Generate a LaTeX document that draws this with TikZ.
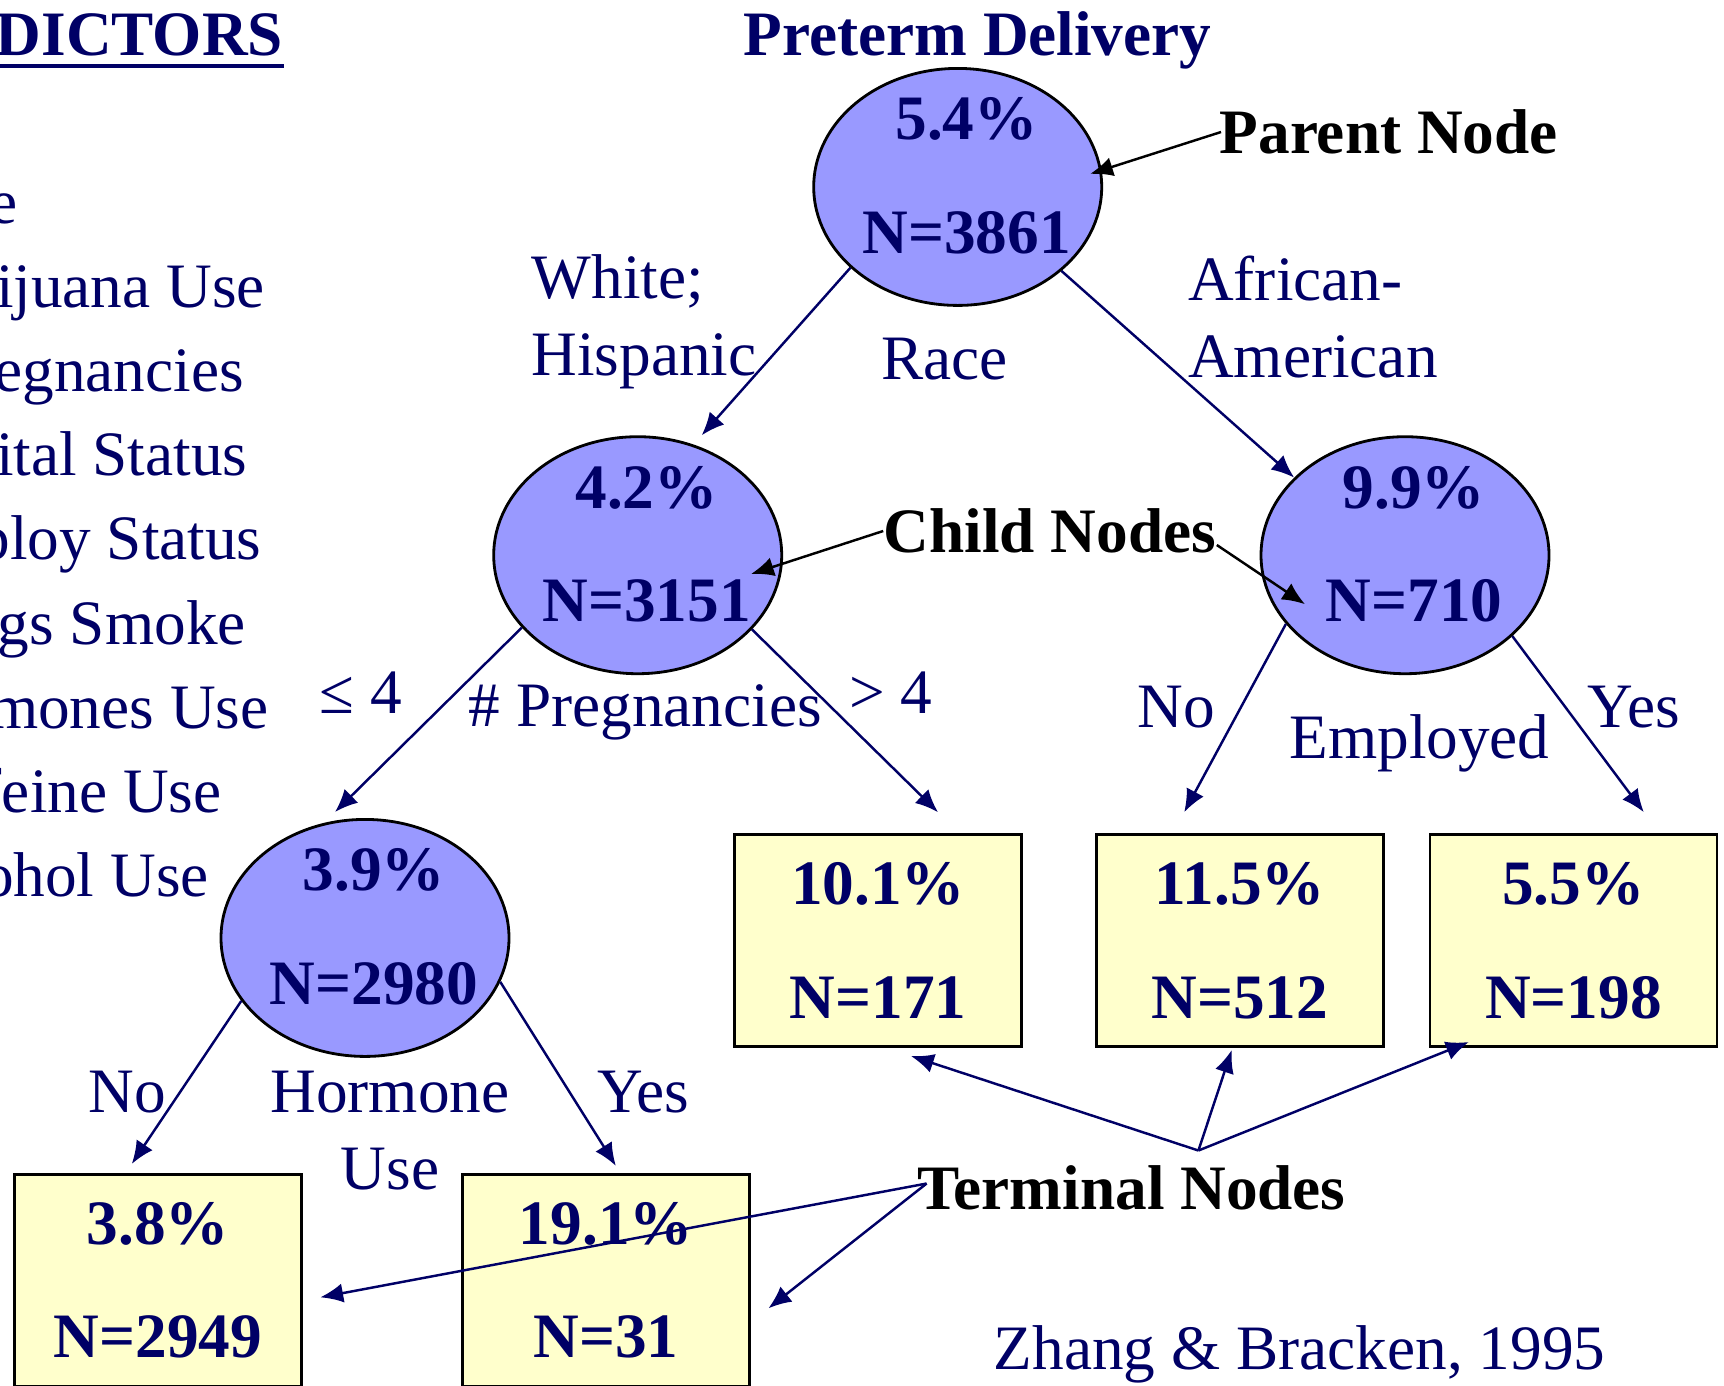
\documentclass[tikz,border=0pt]{standalone}
\usepackage{fontspec}
\setmainfont{Liberation Serif}
\usetikzlibrary{positioning,shapes.geometric,arrows.meta,calc}
\definecolor{ptnavy}{HTML}{000066}
\definecolor{ptblue}{HTML}{9999FF}
\definecolor{ptcream}{HTML}{FFFFCC}
\tikzset{
  stat/.style  ={text=ptnavy, align=center, font=\fontsize{18}{32.4}\selectfont\bfseries,
                 inner sep=0pt, xshift=0.09cm, yshift=0.11cm},
  split/.style ={ellipse, draw=black, line width=0.8pt, fill=ptblue,
                 minimum width=2.88cm, minimum height=2.37cm, inner sep=0pt,
                 label={[stat]center:{#1}}},
  leaf/.style  ={rectangle, draw=black, line width=0.8pt, fill=ptcream, text=ptnavy,
                 align=center, font=\fontsize{18}{32.4}\selectfont\bfseries,
                 minimum width=2.87cm, minimum height=2.12cm, inner sep=0pt},
  cond/.style  ={text=ptnavy, font=\fontsize{18}{21.9}\selectfont, inner sep=0pt},
  note/.style  ={text=black, font=\fontsize{18}{21.9}\selectfont\bfseries, inner sep=0pt},
  pred/.style  ={text=ptnavy, font=\fontsize{18}{21.9}\selectfont, anchor=base west, inner sep=0pt},
  fl/.style    ={-{Latex[length=6.5pt,width=5.5pt]}, line width=0.7pt, draw=ptnavy},
  flk/.style   ={fl, draw=black}
}

\begin{document}
\begin{tikzpicture}
  \clip (0,0) rectangle (17.24,-13.85);
  % predictor list, cut off at the slide edge
  \node[pred, font=\fontsize{18}{21.9}\selectfont\bfseries, anchor=base east] (ptitle) at (2.837,-0.55) {PREDICTORS};
  \draw[ptnavy, line width=1.1pt] ([yshift=-0.11cm]ptitle.base west) -- ([yshift=-0.11cm]ptitle.base east);
  \foreach \p [count=\i] in {Race, Marijuana Use, \# Pregnancies, Marital Status, Employ Status,
                             \# Cigs Smoke, Hormones Use, Caffeine Use, Alcohol Use}
    \node[pred] (p\i) at (-1.10,{-2.23-0.842*(\i-1)}) {\p};

  % tree
  \node[note, text=ptnavy] (title) at (9.775,-0.407) {Preterm Delivery};
  \node[split={5.4\%\\N=3861}] (root) at (9.577,-1.869) {};
  \node[split={4.2\%\\N=3151}, on grid, below left=3.683cm and 3.2cm of root]   (lc) {};
  \node[split={9.9\%\\N=710}, on grid, below right=3.683cm and 4.473cm of root] (rc) {};
  \node[split={3.9\%\\N=2980}, on grid, below left=3.827cm and 2.727cm of lc]   (hm) {};
  \node[leaf, on grid, below right=3.854cm and 2.403cm of lc]   (b1) {10.1\%\\N=171};
  \node[leaf, on grid, below left=3.854cm and 1.653cm of rc]    (b2) {11.5\%\\N=512};
  \node[leaf, on grid, below right=3.854cm and 1.684cm of rc]   (b3) {5.5\%\\N=198};
  \node[leaf, on grid, below left=3.424cm and 2.072cm of hm]    (b4) {3.8\%\\N=2949};
  \node[leaf, on grid, below right=3.424cm and 2.409cm of hm]   (b5) {19.1\%\\N=31};

  % split labels
  \node[cond, align=left, anchor=west] (race1) at (5.31,-3.222) {White;\\Hispanic};
  \node[cond] (race) at (9.445,-3.595) {Race};
  \node[cond, align=left, anchor=west] (race2) at (11.875,-3.167) {African-\\American};
  \node[cond] (pg1) at (3.606,-6.927) {≤ 4};
  \node[cond] (pg)  at (6.454,-7.125) {\# Pregnancies};
  \node[cond] (pg2) at (8.906,-6.927) {> 4};
  \node[cond] (em1) at (11.765,-7.07) {No};
  \node[cond] (em)  at (14.195,-7.434) {Employed};
  \node[cond] (em2) at (16.339,-7.07) {Yes};
  \node[cond] (hr1) at (1.275,-10.917) {No};
  \node[cond, align=center] (hr) at (3.90,-11.306) {Hormone\\Use};
  \node[cond] (hr2) at (6.432,-10.917) {Yes};
  \node[cond] (src) at (12.996,-13.545) {Zhang \& Bracken, 1995};

  \draw[fl] (root.217.8) -- ([xshift=0.64cm]lc.north);
  \draw[fl] (root.-39) -- (rc.145);
  \draw[fl] (lc.212.6) -- ([xshift=-0.3cm,yshift=0.06cm]hm.north);
  \draw[fl] (lc.-33) -- ([xshift=0.6cm,yshift=0.21cm]b1.north);
  \draw[fl] (rc.210) -- ([xshift=-0.555cm,yshift=0.21cm]b2.north);
  \draw[fl] (rc.-37) -- ([xshift=0.704cm,yshift=0.21cm]b3.north);
  \draw[fl] (hm.207) -- ([xshift=-0.26cm,yshift=0.09cm]b4.north);
  \draw[fl] (hm.-18) -- ([xshift=0.1cm,yshift=0.07cm]b5.north);

  % annotations
  \node[note] (pn) at (13.887,-1.32) {Parent Node};
  \node[note] (cn) at (10.50,-5.31) {Child Nodes};
  \node[note] (tn) at (11.314,-11.875) {Terminal Nodes};
  \draw[flk] ([xshift=0.02cm]pn.west) -- ($(root.east)+(-0.13,0.13)$);
  \draw[flk] (cn.west) -- ([shift={(1.133,-0.188)}]lc.center);
  \draw[flk] ([yshift=-0.14cm]cn.east) -- ([shift={(-1.0,-0.49)}]rc.center);
  \coordinate (tp) at ([shift={(0.67,0.37)}]tn.center);
  \draw[fl] (tp) -- ([shift={(0.33,-0.08)}]b1.south);
  \draw[fl] (tp) -- ([shift={(-0.08,-0.02)}]b2.south);
  \draw[fl] (tp) -- ([shift={(-1.046,0.06)}]b3.south);
  \draw[fl] ([shift={(0.1,0.04)}]tn.west) -- ([shift={(0.176,-0.17)}]b4.east);
  \draw[fl] ([shift={(0.1,0.04)}]tn.west) -- ([shift={(0.176,-0.28)}]b5.east);
\end{tikzpicture}
\end{document}
